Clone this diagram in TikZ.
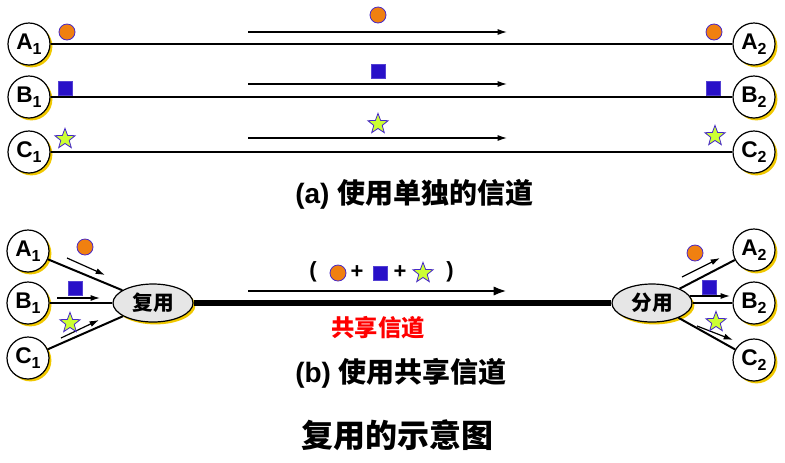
\documentclass[tikz,border=0pt]{standalone}
\usepackage{fontspec}
\setmainfont{Liberation Sans}
\newfontfamily\cjk{Noto Sans CJK SC}
\usetikzlibrary{shapes.geometric,shadows,arrows.meta}
\definecolor{dotorange}{RGB}{240,128,16}
\definecolor{markblue}{RGB}{40,16,200}
\definecolor{edgeblue}{RGB}{70,40,200}
\definecolor{starfill}{RGB}{204,255,51}
\definecolor{shyellow}{RGB}{240,200,0}
\definecolor{muxgray}{RGB}{230,230,230}
\newcommand{\stlabel}[2]{#1\raisebox{-0.45ex}{\fontsize{12}{12}\selectfont #2}}
\begin{document}
\begin{tikzpicture}[x=0.75pt,y=-0.75pt,
  yshadow/.style={drop shadow={shadow xshift=1.8pt,shadow yshift=-1.8pt,fill=shyellow,opacity=1}},
  station/.style={circle,draw=black,line width=0.9pt,fill=white,minimum size=31.5pt,inner sep=0pt,
    font=\fontsize{17}{18}\selectfont\bfseries,yshadow},
  muxbox/.style={ellipse,draw=black,line width=0.9pt,fill=muxgray,minimum width=60pt,minimum height=28.5pt,
    inner sep=0pt,font=\cjk\fontsize{15.5}{18}\selectfont\bfseries,yshadow},
  dot/.style={circle,fill=dotorange,draw=edgeblue,line width=0.6pt,minimum size=12pt,inner sep=0pt},
  sq/.style={rectangle,fill=markblue,draw=markblue!80!white,line width=0.4pt,minimum size=10.5pt,inner sep=0pt},
  st/.style={star,star points=5,star point ratio=2.4,fill=starfill,draw=edgeblue,line width=0.6pt,minimum size=16pt,inner sep=0pt},
  chan/.style={line width=1.5pt},
  flow/.style={line width=0.9pt,-{Latex[length=7pt,width=4.5pt]}},
  bigflow/.style={line width=2.2pt,-{Latex[length=10pt,width=7pt]}},
  trunk/.style={line width=4.5pt},
  caption/.style={anchor=west,inner sep=0pt,font=\fontsize{21}{24}\selectfont\bfseries},
  sym/.style={inner sep=0pt,font=\fontsize{16.5}{18}\selectfont\bfseries}
]
\useasboundingbox[fill=white] (0,0) rectangle (785,462);

% ---------- (a) ----------
\node[station] (A1) at (29,44) {\stlabel{A}{1}};
\node[station] (B1) at (29,97) {\stlabel{B}{1}};
\node[station] (C1) at (29,152) {\stlabel{C}{1}};
\node[station] (A2) at (754,44) {\stlabel{A}{2}};
\node[station] (B2) at (754,97) {\stlabel{B}{2}};
\node[station] (C2) at (754,152) {\stlabel{C}{2}};
\draw[chan] (A1) -- (A2);
\draw[chan] (B1) -- (B2);
\draw[chan] (C1) -- (C2);

\coordinate (aS) at (248,32); \coordinate (aE) at (507,32);
\coordinate (bS) at (248,84); \coordinate (bE) at (507,84);
\coordinate (cS) at (248,138); \coordinate (cE) at (507,138);
\draw[flow] (aS) -- (aE);
\draw[flow] (bS) -- (bE);
\draw[flow] (cS) -- (cE);

\node[dot] (da1) at (67,32) {};
\node[dot] (da2) at (378,15) {};
\node[dot] (da3) at (714,32) {};
\node[sq] (sa1) at (65,88) {};
\node[sq] (sa2) at (378,71) {};
\node[sq] (sa3) at (713,88) {};
\node[st] (ta1) at (65,139) {};
\node[st] (ta2) at (378,124) {};
\node[st] (ta3) at (715,136) {};

\node[caption] (capa) at (295,194) {(a) {\cjk 使用单独的信道}};

% ---------- (b) ----------
\node[station] (A1b) at (28,251) {\stlabel{A}{1}};
\node[station] (B1b) at (28,303) {\stlabel{B}{1}};
\node[station] (C1b) at (28,358) {\stlabel{C}{1}};
\node[station] (A2b) at (754,250) {\stlabel{A}{2}};
\node[station] (B2b) at (754,303) {\stlabel{B}{2}};
\node[station] (C2b) at (754,360) {\stlabel{C}{2}};
\node[muxbox] (mux) at (153,303) {复用};
\node[muxbox] (demux) at (652,303) {分用};

\draw[chan] (A1b) -- (mux);
\draw[chan] (B1b) -- (mux);
\draw[chan] (C1b) -- (mux);
\draw[chan] (demux) -- (A2b);
\draw[chan] (demux) -- (B2b);
\draw[chan] (demux) -- (C2b);
\draw[trunk] (mux) -- (demux);

\coordinate (la1) at (67,258); \coordinate (la2) at (105,275);
\coordinate (lb1) at (57,298); \coordinate (lb2) at (100,298);
\coordinate (lc1) at (61,338); \coordinate (lc2) at (99,320);
\coordinate (ra1) at (682,277); \coordinate (ra2) at (720,258);
\coordinate (rb1) at (690,296); \coordinate (rb2) at (730,296);
\coordinate (rc1) at (697,326); \coordinate (rc2) at (733,340);
\draw[flow] (la1) -- (la2);
\draw[flow] (lb1) -- (lb2);
\draw[flow] (lc1) -- (lc2);
\draw[flow] (ra1) -- (ra2);
\draw[flow] (rb1) -- (rb2);
\draw[flow] (rc1) -- (rc2);

\node[dot] (db1) at (85,247) {};
\node[sq] (sb1) at (75,288) {};
\node[st] (tb1) at (70,323) {};
\node[dot] (db3) at (695,253) {};
\node[sq] (sb3) at (709,287) {};
\node[st] (tb3) at (716,322) {};

\coordinate (mS) at (248,291); \coordinate (mE) at (507,291);
\draw[bigflow] (mS) -- (mE);
\node[sym] (lp) at (313,272) {(};
\node[dot] (dm) at (338,273) {};
\node[sym] (p1) at (357,272) {+};
\node[sq] (sm) at (380,273) {};
\node[sym] (p2) at (400,272) {+};
\node[st] (tm) at (423,273) {};
\node[sym] (rp) at (450,272) {)};

\node[inner sep=0pt,text=red,font=\cjk\fontsize{17.5}{20}\selectfont\bfseries] (shared) at (378,328) {共享信道};
\node[caption] (capb) at (295,373) {(b) {\cjk 使用共享信道}};
\node[inner sep=0pt,font=\cjk\fontsize{24}{28}\selectfont\bfseries] (title) at (397,435) {复用的示意图};
\end{tikzpicture}
\end{document}
